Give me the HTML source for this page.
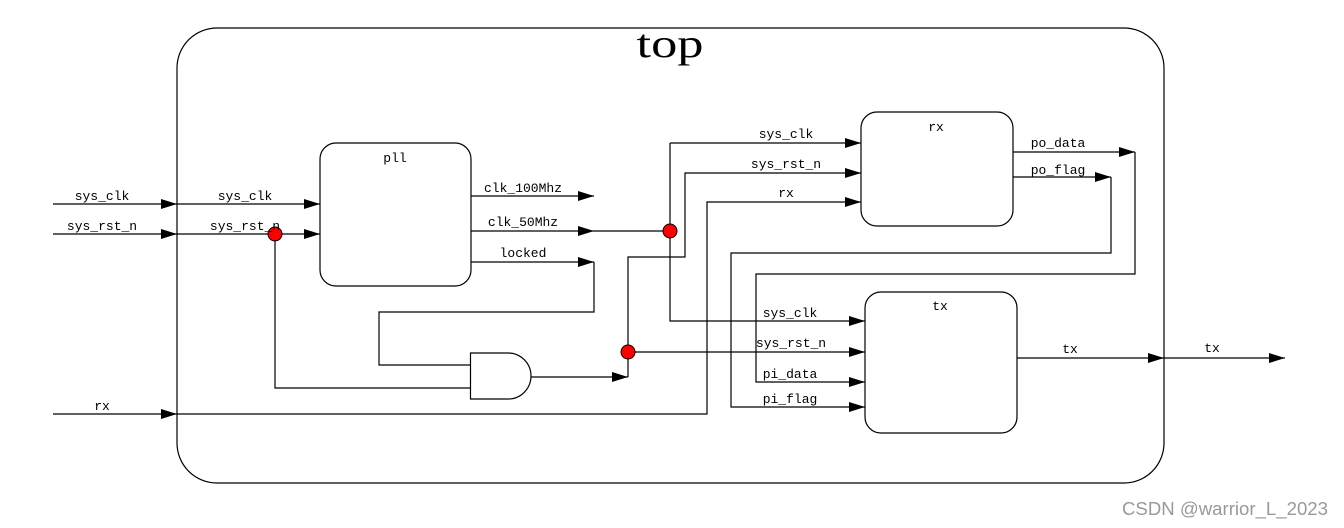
<!DOCTYPE html>
<html><head><meta charset="utf-8"><style>
html,body{margin:0;padding:0;background:#fff;}
svg{display:block;}
.l{font-family:"Liberation Mono",monospace;font-size:13px;fill:#000;}
</style></head><body>
<svg width="1344" height="528" viewBox="0 0 1344 528" xmlns="http://www.w3.org/2000/svg">
<defs>
<marker id="a" markerWidth="16" markerHeight="10" refX="16" refY="5" orient="auto" markerUnits="userSpaceOnUse">
<path d="M0,0 L16,5 L0,10 Z" fill="#000"/>
</marker>
</defs>
<g fill="none" stroke="#000" stroke-width="1.2">
<rect x="177" y="28" width="987" height="455" rx="40" ry="40"/>
<rect x="320" y="143" width="151" height="143" rx="16"/>
<rect x="861" y="112" width="152" height="114" rx="16"/>
<rect x="865" y="292" width="152" height="141" rx="16"/>
<path d="M470.5,353 H508 A23,23 0 0 1 508,399 H470.5 Z"/>
</g>
<g fill="none" stroke="#000" stroke-width="1.2" marker-end="url(#a)">
<path d="M53,204 H177"/>
<path d="M177,204 H320"/>
<path d="M53,234 H177"/>
<path d="M177,234 H320"/>
<path d="M53,414 H177"/>
<path d="M471,196 H594"/>
<path d="M471,231 H594"/>
<path d="M471,262 H594"/>
<path d="M531,377 H628"/>
<path d="M594,231 H670 M670,143 H861"/>
<path d="M628,352 V257 H685 V173 H861"/>
<path d="M177,414 H707 V202 H861"/>
<path d="M670,231 V321 H865"/>
<path d="M628,352 H865"/>
<path d="M1013,152 H1135"/>
<path d="M1013,177 H1111"/>
<path d="M1135,152 V274 H756 V382 H865"/>
<path d="M1111,177 V253 H731 V407 H865"/>
<path d="M1017,358 H1164"/>
<path d="M1164,358 H1285"/>
</g>
<g fill="none" stroke="#000" stroke-width="1.2">
<path d="M670,143 V231"/>
<path d="M594,262 V312 H379 V365 H470.5"/>
<path d="M275,234 V388 H470.5"/>
<path d="M628,377 V352"/>
</g>
<g fill="#f00" stroke="#000" stroke-width="1">
<ellipse cx="275" cy="234" rx="7" ry="7"/>
<ellipse cx="670" cy="231" rx="7" ry="7"/>
<ellipse cx="628" cy="352" rx="7" ry="7"/>
</g>
<text x="670" y="57" text-anchor="middle" font-family="Liberation Serif,serif" font-size="40" textLength="67" lengthAdjust="spacingAndGlyphs">top</text>
<g class="l" text-anchor="middle">
<text x="395" y="162">pll</text>
<text x="936" y="131">rx</text>
<text x="940" y="310">tx</text>
<text x="102" y="200">sys_clk</text>
<text x="102" y="230">sys_rst_n</text>
<text x="102" y="410">rx</text>
<text x="245" y="200">sys_clk</text>
<text x="245" y="230">sys_rst_n</text>
<text x="523" y="192">clk_100Mhz</text>
<text x="523" y="226">clk_50Mhz</text>
<text x="523" y="257">locked</text>
<text x="786" y="138">sys_clk</text>
<text x="786" y="168">sys_rst_n</text>
<text x="786" y="197">rx</text>
<text x="790" y="317">sys_clk</text>
<text x="791" y="347">sys_rst_n</text>
<text x="790" y="378">pi_data</text>
<text x="790" y="403">pi_flag</text>
<text x="1058" y="147">po_data</text>
<text x="1058" y="174">po_flag</text>
<text x="1070" y="353">tx</text>
<text x="1212" y="352">tx</text>
</g>
<text x="1122" y="515" font-family="Liberation Sans,sans-serif" font-size="18" fill="#999" textLength="206" lengthAdjust="spacingAndGlyphs">CSDN @warrior_L_2023</text>
</svg>
</body></html>
